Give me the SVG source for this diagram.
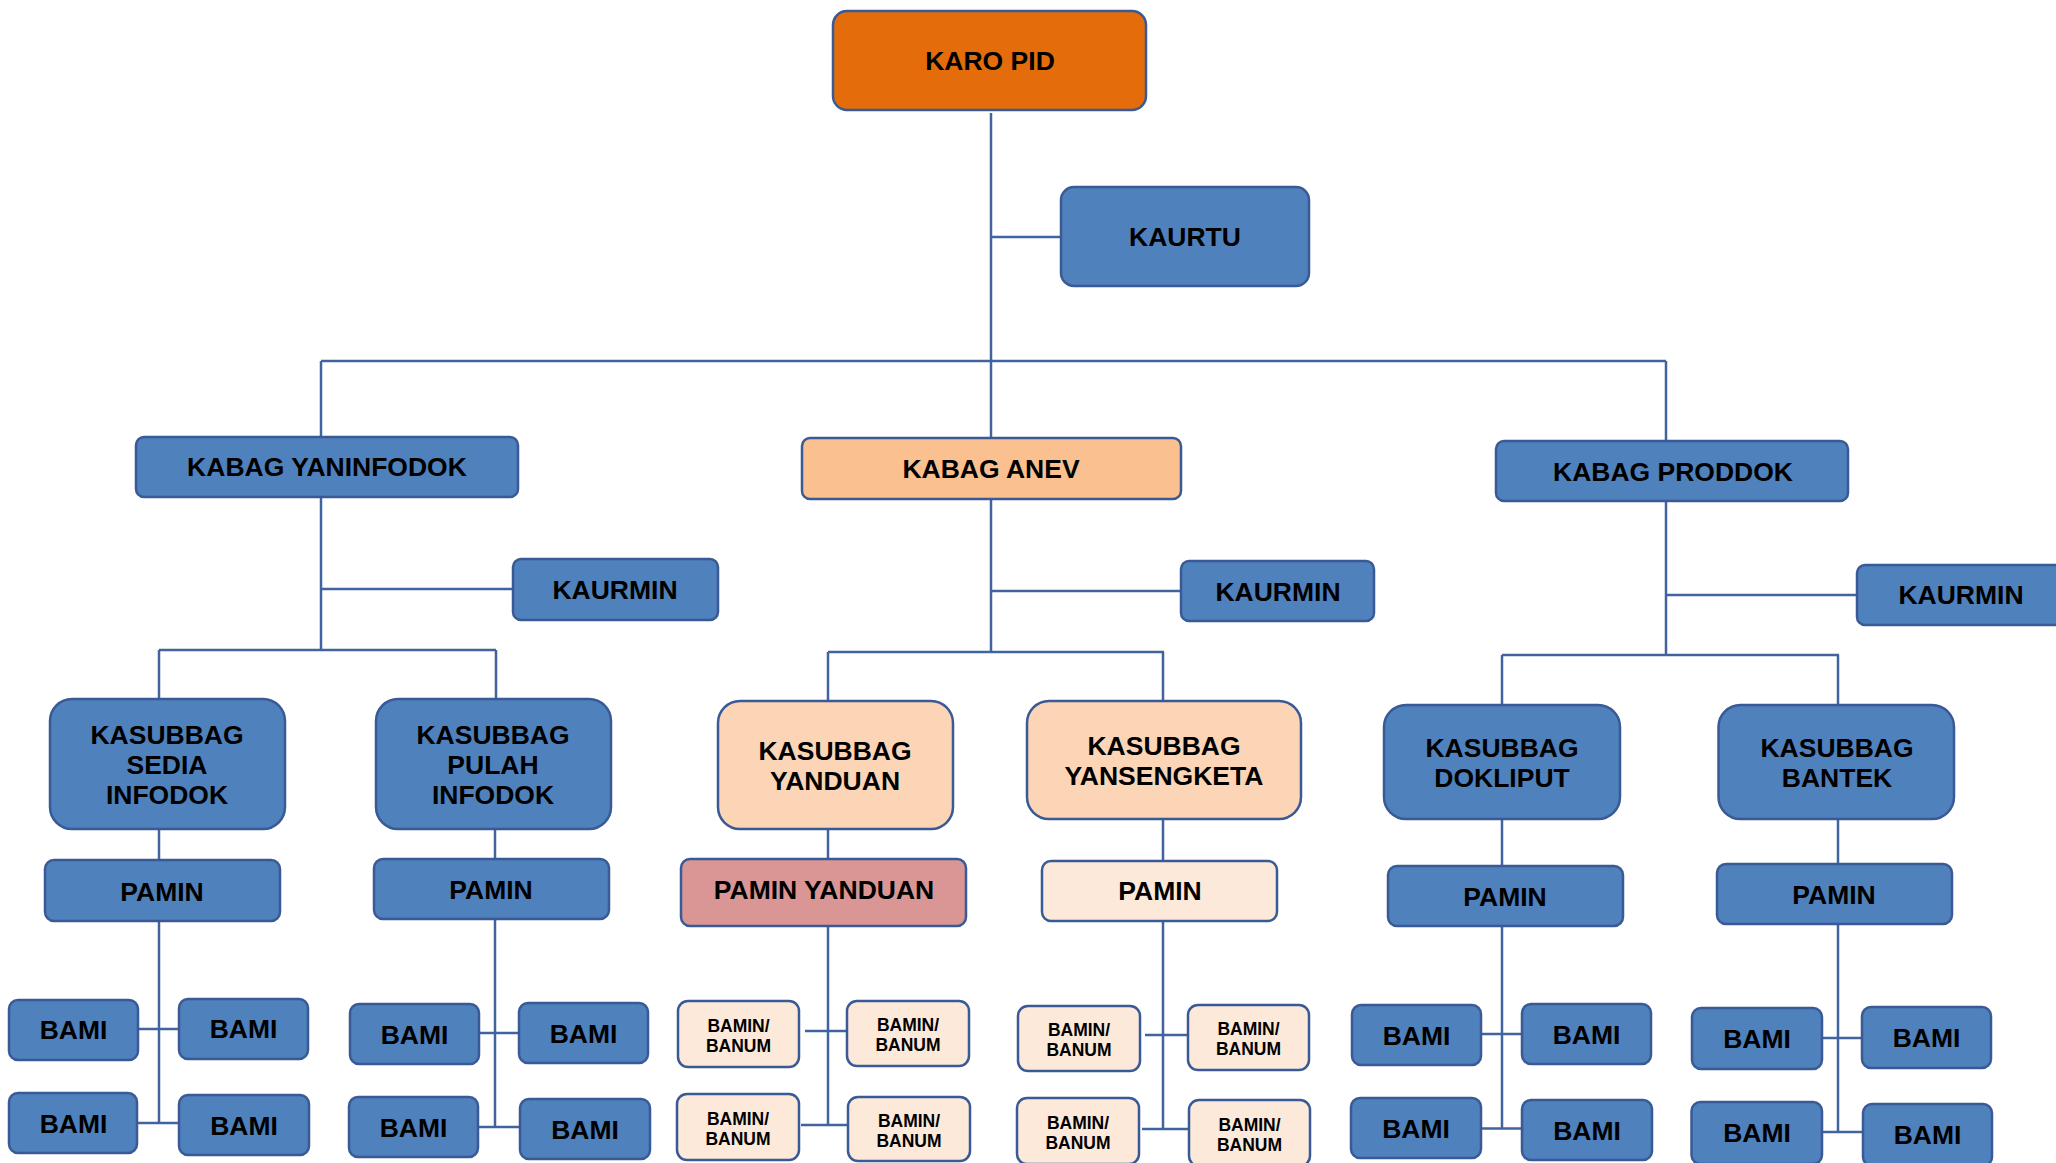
<svg xmlns="http://www.w3.org/2000/svg" width="2056" height="1163" viewBox="0 0 2056 1163">
<style>
rect{stroke:#3A5A96;stroke-width:2.5}
.b{fill:#4F81BD}
.o{fill:#E46C0A}
.a{fill:#FAC090}
.p{fill:#FBD5B5}
.r{fill:#D99694}
.l{fill:#FDE9D9}
text{font-family:"Liberation Sans",Arial,sans-serif;font-weight:bold;font-size:26.5px;fill:#000;text-anchor:middle}
.s{font-size:17.5px}
#connectors path{fill:none;stroke:#41639E;stroke-width:2.5}
</style>
<rect x="0" y="0" width="2056" height="1163" fill="#fff" style="stroke:none"/>
<g id="connectors">
<path d="M991 113V438M991 237H1061M321 361H1666M321 361V437M1666 361V441"/>
<path d="M321 497V650M322 589H513M159 650H496M159 650V699M496 650V699M159 829V860M495 829V859M159 921V1123M138 1029H179M137 1123H179M495 919V1127M479 1033H519M478 1127H520"/>
<path d="M991 499V652M991 591H1181M828 652H1164M828 652V701M1163 652V701M828 829V859M1163 819V861M828 926V1125M805 1031H847M801 1125H848M1163 921V1129M1145 1035H1188M1142 1129H1189"/>
<path d="M1666 501V655M1666 595H1857M1502 655H1839M1502 655V705M1838 655V705M1502 819V866M1838 819V864M1502 926V1128.5M1481 1034H1522M1481 1128.5H1522M1838 924V1132M1822 1038H1862M1822 1132H1863"/>
</g>
<g id="karo-pid"><rect class="o" x="833" y="11" width="313" height="99" rx="14"/><text x="990" y="70">KARO PID</text></g>
<g id="kaurtu"><rect class="b" x="1061" y="187" width="248" height="99" rx="13"/><text x="1185" y="246">KAURTU</text></g>
<g id="kabag-yaninfodok"><rect class="b" x="136" y="437" width="382" height="60" rx="8"/><text x="327" y="476">KABAG YANINFODOK</text></g>
<g id="kabag-anev"><rect class="a" x="802" y="438" width="379" height="61" rx="8"/><text x="991" y="478">KABAG ANEV</text></g>
<g id="kabag-proddok"><rect class="b" x="1496" y="441" width="352" height="60" rx="8"/><text x="1673" y="481">KABAG PRODDOK</text></g>
<g id="kaurmin-1"><rect class="b" x="513" y="559" width="205" height="61" rx="8"/><text x="615" y="599">KAURMIN</text></g>
<g id="kaurmin-2"><rect class="b" x="1181" y="561" width="193" height="60" rx="8"/><text x="1278" y="601">KAURMIN</text></g>
<g id="kaurmin-3"><rect class="b" x="1857" y="565" width="230" height="60" rx="8"/><text x="1961" y="604">KAURMIN</text></g>
<g id="kasubbag-sedia-infodok"><rect class="b" x="50" y="699" width="235" height="130" rx="22"/><text x="167" y="744">KASUBBAG</text><text x="167" y="774">SEDIA</text><text x="167" y="804">INFODOK</text></g>
<g id="kasubbag-pulah-infodok"><rect class="b" x="376" y="699" width="235" height="130" rx="22"/><text x="493" y="744">KASUBBAG</text><text x="493" y="774">PULAH</text><text x="493" y="804">INFODOK</text></g>
<g id="kasubbag-yanduan"><rect class="p" x="718" y="701" width="235" height="128" rx="22"/><text x="835" y="760">KASUBBAG</text><text x="835" y="790">YANDUAN</text></g>
<g id="kasubbag-yansengketa"><rect class="p" x="1027" y="701" width="274" height="118" rx="22"/><text x="1164" y="755">KASUBBAG</text><text x="1164" y="785">YANSENGKETA</text></g>
<g id="kasubbag-dokliput"><rect class="b" x="1384" y="705" width="236" height="114" rx="22"/><text x="1502" y="757">KASUBBAG</text><text x="1502" y="787">DOKLIPUT</text></g>
<g id="kasubbag-bantek"><rect class="b" x="1718.5" y="705" width="235.5" height="114" rx="22"/><text x="1837" y="757">KASUBBAG</text><text x="1837" y="787">BANTEK</text></g>
<g id="pamin-1"><rect class="b" x="45" y="860" width="235" height="61" rx="9"/><text x="162" y="901">PAMIN</text></g>
<g id="pamin-2"><rect class="b" x="374" y="859" width="235" height="60" rx="9"/><text x="491" y="899">PAMIN</text></g>
<g id="pamin-yanduan"><rect class="r" x="681" y="859" width="285" height="67" rx="9"/><text x="824" y="899">PAMIN YANDUAN</text></g>
<g id="pamin-3"><rect class="l" x="1042" y="861" width="235" height="60" rx="9"/><text x="1160" y="900">PAMIN</text></g>
<g id="pamin-4"><rect class="b" x="1388" y="866" width="235" height="60" rx="9"/><text x="1505" y="906">PAMIN</text></g>
<g id="pamin-5"><rect class="b" x="1717" y="864" width="235" height="60" rx="9"/><text x="1834" y="904">PAMIN</text></g>
<g id="bami-1a"><rect class="b" x="9" y="1000" width="129" height="60" rx="9"/><text x="73.5" y="1039">BAMI</text></g>
<g id="bami-1b"><rect class="b" x="179" y="999" width="129" height="60" rx="9"/><text x="243.5" y="1038">BAMI</text></g>
<g id="bami-1c"><rect class="b" x="9" y="1093" width="128" height="60" rx="9"/><text x="73.5" y="1133">BAMI</text></g>
<g id="bami-1d"><rect class="b" x="179" y="1095" width="130" height="60" rx="9"/><text x="244" y="1135">BAMI</text></g>
<g id="bami-2a"><rect class="b" x="350" y="1004" width="129" height="60" rx="9"/><text x="414.5" y="1044">BAMI</text></g>
<g id="bami-2b"><rect class="b" x="519" y="1003" width="129" height="60" rx="9"/><text x="583.5" y="1043">BAMI</text></g>
<g id="bami-2c"><rect class="b" x="349" y="1097" width="129" height="60" rx="9"/><text x="413.5" y="1137">BAMI</text></g>
<g id="bami-2d"><rect class="b" x="520" y="1099" width="130" height="60" rx="9"/><text x="585" y="1139">BAMI</text></g>
<g id="bamin-3a"><rect class="l" x="678" y="1001" width="121" height="66" rx="10"/><text class="s" x="738.5" y="1032">BAMIN/</text><text class="s" x="738.5" y="1052">BANUM</text></g>
<g id="bamin-3b"><rect class="l" x="847" y="1001" width="122" height="65" rx="10"/><text class="s" x="908" y="1031">BAMIN/</text><text class="s" x="908" y="1051">BANUM</text></g>
<g id="bamin-3c"><rect class="l" x="677" y="1094" width="122" height="66" rx="10"/><text class="s" x="738" y="1125">BAMIN/</text><text class="s" x="738" y="1145">BANUM</text></g>
<g id="bamin-3d"><rect class="l" x="848" y="1097" width="122" height="64" rx="10"/><text class="s" x="909" y="1127">BAMIN/</text><text class="s" x="909" y="1147">BANUM</text></g>
<g id="bamin-4a"><rect class="l" x="1018" y="1006" width="122" height="65" rx="10"/><text class="s" x="1079" y="1036">BAMIN/</text><text class="s" x="1079" y="1056">BANUM</text></g>
<g id="bamin-4b"><rect class="l" x="1188" y="1005" width="121" height="65" rx="10"/><text class="s" x="1248.5" y="1035">BAMIN/</text><text class="s" x="1248.5" y="1055">BANUM</text></g>
<g id="bamin-4c"><rect class="l" x="1017" y="1098" width="122" height="66" rx="10"/><text class="s" x="1078" y="1129">BAMIN/</text><text class="s" x="1078" y="1149">BANUM</text></g>
<g id="bamin-4d"><rect class="l" x="1189" y="1100" width="121" height="66" rx="10"/><text class="s" x="1249.5" y="1131">BAMIN/</text><text class="s" x="1249.5" y="1151">BANUM</text></g>
<g id="bami-5a"><rect class="b" x="1352" y="1005" width="129" height="60" rx="9"/><text x="1416.5" y="1045">BAMI</text></g>
<g id="bami-5b"><rect class="b" x="1522" y="1004" width="129" height="60" rx="9"/><text x="1586.5" y="1044">BAMI</text></g>
<g id="bami-5c"><rect class="b" x="1351" y="1098" width="130" height="60" rx="9"/><text x="1416" y="1138">BAMI</text></g>
<g id="bami-5d"><rect class="b" x="1522" y="1100" width="130" height="60" rx="9"/><text x="1587" y="1140">BAMI</text></g>
<g id="bami-6a"><rect class="b" x="1692" y="1008" width="130" height="61" rx="9"/><text x="1757" y="1048">BAMI</text></g>
<g id="bami-6b"><rect class="b" x="1862" y="1007" width="129" height="61" rx="9"/><text x="1926.5" y="1047">BAMI</text></g>
<g id="bami-6c"><rect class="b" x="1691.5" y="1102" width="130.5" height="62" rx="9"/><text x="1757" y="1142">BAMI</text></g>
<g id="bami-6d"><rect class="b" x="1863" y="1104" width="129" height="62" rx="9"/><text x="1927.5" y="1144">BAMI</text></g>
</svg>
